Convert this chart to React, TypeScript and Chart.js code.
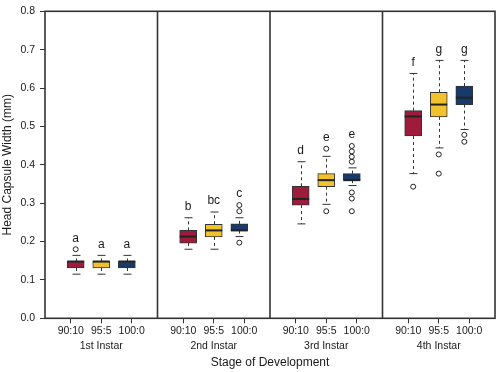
import React, { useEffect, useRef } from "react";
import { Chart, registerables } from "chart.js";

Chart.register(...registerables);

// ---- data ----
const stages = ["1st Instar", "2nd Instar", "3rd Instar", "4th Instar"];
const diets = ["90:10", "95:5", "100:0"];
const dietColors = ["#9e1b3c", "#f2c12e", "#173a6a"];

// rows: diets (90:10, 95:5, 100:0); columns: stages
const whiskerLow = [
  [0.115, 0.180, 0.246, 0.377],
  [0.115, 0.180, 0.297, 0.444],
  [0.115, 0.213, 0.346, 0.492],
];
const q1 = [
  [0.131, 0.196, 0.295, 0.475],
  [0.131, 0.212, 0.343, 0.525],
  [0.131, 0.229, 0.360, 0.557],
];
const median = [
  [0.148, 0.213, 0.311, 0.526],
  [0.148, 0.229, 0.360, 0.557],
  [0.148, 0.229, 0.360, 0.575],
];
const q3 = [
  [0.148, 0.229, 0.344, 0.541],
  [0.148, 0.245, 0.377, 0.589],
  [0.148, 0.246, 0.377, 0.605],
];
const whiskerHigh = [
  [0.164, 0.262, 0.408, 0.638],
  [0.164, 0.277, 0.422, 0.672],
  [0.164, 0.262, 0.392, 0.672],
];
const outliers = [
  [[0.180], [], [], [0.343]],
  [[], [], [0.442, 0.279], [0.427, 0.377]],
  [[], [0.279, 0.295, 0.197], [0.408, 0.421, 0.435, 0.449, 0.328, 0.312, 0.279], [0.478, 0.460]],
];
const letters = [
  ["a", "b", "d", "f"],
  ["a", "bc", "e", "g"],
  ["a", "c", "e", "g"],
];
const yTickStep = 0.1;

// ---- layout (positions in x-scale units) ----
const PANEL = 4.4;
const BOX_OFFSETS = [1.2, 2.2, 3.2];
const TICK_OFFSETS = [1.01, 2.2, 3.39];
const FONT = "'Liberation Sans', Arial, Helvetica, sans-serif";
const INK = "#1a1a1a";
const LINE = "#333333";

const boxX = (d: number, s: number) => s * PANEL + BOX_OFFSETS[d];

const tickValues: number[] = [];
const tickLabels: (string | string[])[] = [];
stages.forEach((st, s) => {
  diets.forEach((dt, d) => {
    tickValues.push(s * PANEL + TICK_OFFSETS[d]);
    tickLabels.push(d === 1 ? [dt, st] : [dt, ""]);
  });
});

const boxPlugin = {
  id: "boxExtras",
  beforeDatasetsDraw(chart: any) {
    const { ctx, scales } = chart;
    const xs = scales.x, ys = scales.y;
    ctx.save();
    ctx.strokeStyle = LINE;
    ctx.lineWidth = 1;
    diets.forEach((_, d) => {
      stages.forEach((__, s) => {
        const px = Math.round(xs.getPixelForValue(boxX(d, s))) + 0.5;
        const hi = ys.getPixelForValue(whiskerHigh[d][s]);
        const lo = ys.getPixelForValue(whiskerLow[d][s]);
        const top = ys.getPixelForValue(q3[d][s]);
        const bot = ys.getPixelForValue(q1[d][s]);
        ctx.setLineDash([3, 3]);
        ctx.beginPath();
        ctx.moveTo(px, top);
        ctx.lineTo(px, hi);
        ctx.moveTo(px, bot);
        ctx.lineTo(px, lo);
        ctx.stroke();
        ctx.setLineDash([]);
        ctx.beginPath();
        ctx.moveTo(px - 4, hi);
        ctx.lineTo(px + 4, hi);
        ctx.moveTo(px - 4, lo);
        ctx.lineTo(px + 4, lo);
        ctx.stroke();
      });
    });
    ctx.restore();
  },
  afterDatasetsDraw(chart: any) {
    const { ctx, scales, chartArea } = chart;
    const xs = scales.x, ys = scales.y;
    ctx.save();
    // medians
    ctx.strokeStyle = "#222";
    ctx.lineWidth = 2;
    diets.forEach((_, d) => {
      stages.forEach((__, s) => {
        const px = xs.getPixelForValue(boxX(d, s));
        const my = ys.getPixelForValue(median[d][s]);
        ctx.beginPath();
        ctx.moveTo(px - 8.5, my);
        ctx.lineTo(px + 8.5, my);
        ctx.stroke();
      });
    });
    // letters
    ctx.fillStyle = INK;
    ctx.font = `12px ${FONT}`;
    ctx.textAlign = "center";
    ctx.textBaseline = "middle";
    diets.forEach((_, d) => {
      stages.forEach((__, s) => {
        const topVal = Math.max(whiskerHigh[d][s], ...outliers[d][s]);
        const px = xs.getPixelForValue(boxX(d, s));
        const py = ys.getPixelForValue(topVal) - 11;
        ctx.fillText(letters[d][s], px, py);
      });
    });
    // frame and panel dividers
    ctx.strokeStyle = LINE;
    ctx.lineWidth = 1.6;
    ctx.strokeRect(chartArea.left, chartArea.top, chartArea.right - chartArea.left, chartArea.bottom - chartArea.top);
    for (let s = 1; s < stages.length; s++) {
      const px = xs.getPixelForValue(s * PANEL);
      ctx.beginPath();
      ctx.moveTo(px, chartArea.top);
      ctx.lineTo(px, chartArea.bottom);
      ctx.stroke();
    }
    ctx.restore();
  },
};

export default function App() {
  const ref = useRef<HTMLCanvasElement | null>(null);

  useEffect(() => {
    if (!ref.current) return;
    const boxDatasets = diets.map((dt, d) => ({
      type: "bar" as const,
      label: dt,
      data: stages.map((_, s) => ({ x: boxX(d, s), y: [q1[d][s], q3[d][s]] })),
      backgroundColor: dietColors[d],
      borderColor: LINE,
      borderWidth: 1,
      borderSkipped: false,
      grouped: false,
      barThickness: 17,
      maxBarThickness: 17,
      order: 2,
    }));
    const outlierDatasets = diets.map((dt, d) => ({
      type: "scatter" as const,
      label: dt + " outliers",
      data: stages.flatMap((_, s) => outliers[d][s].map((v) => ({ x: boxX(d, s), y: v }))),
      pointRadius: 2.5,
      pointBorderWidth: 1,
      pointBackgroundColor: "rgba(255,255,255,0)",
      pointBorderColor: "#222",
      showLine: false,
      order: 1,
    }));

    const chart = new Chart(ref.current, {
      type: "bar",
      data: { datasets: [...boxDatasets, ...outlierDatasets] as any },
      options: {
        responsive: false,
        animation: false,
        layout: { padding: { top: 4.7, right: 2, left: 0, bottom: 0 } },
        plugins: { legend: { display: false }, tooltip: { enabled: false } },
        scales: {
          x: {
            type: "linear",
            min: 0,
            max: PANEL * stages.length,
            offset: false,
            afterBuildTicks: (scale: any) => {
              scale.ticks = tickValues.map((v) => ({ value: v }));
            },
            afterFit: (scale: any) => {
              scale.height = 53.7;
            },
            ticks: {
              autoSkip: false,
              maxRotation: 0,
              minRotation: 0,
              padding: 1,
              color: INK,
              font: { family: FONT, size: 10.5, lineHeight: 1.36 },
              callback: (_v: any, i: number) => tickLabels[i],
            },
            grid: { drawOnChartArea: false, drawTicks: true, tickLength: 5, color: LINE, offset: false },
            border: { display: false },
            title: {
              display: true,
              text: "Stage of Development",
              color: INK,
              font: { family: FONT, size: 12 },
              padding: { top: 0, bottom: 2 },
            },
          },
          y: {
            type: "linear",
            min: 0,
            max: 0.8,
            afterFit: (scale: any) => {
              scale.width = 45;
            },
            ticks: {
              stepSize: yTickStep,
              padding: 5,
              color: INK,
              font: { family: FONT, size: 10.5 },
              callback: (v: any) => Number(v).toFixed(1),
            },
            grid: { drawOnChartArea: false, drawTicks: true, tickLength: 5, color: LINE },
            border: { display: false },
            title: {
              display: true,
              text: "Head Capsule Width (mm)",
              color: INK,
              font: { family: FONT, size: 12 },
              padding: { top: 0, bottom: 0 },
            },
          },
        },
      } as any,
      plugins: [boxPlugin],
    });
    return () => chart.destroy();
  }, []);

  return (
    <div style={{ position: "absolute", left: 0, top: 0, width: 500, height: 372, background: "#fff" }}>
      <canvas ref={ref} width={500} height={372} style={{ display: "block" }} />
    </div>
  );
}
